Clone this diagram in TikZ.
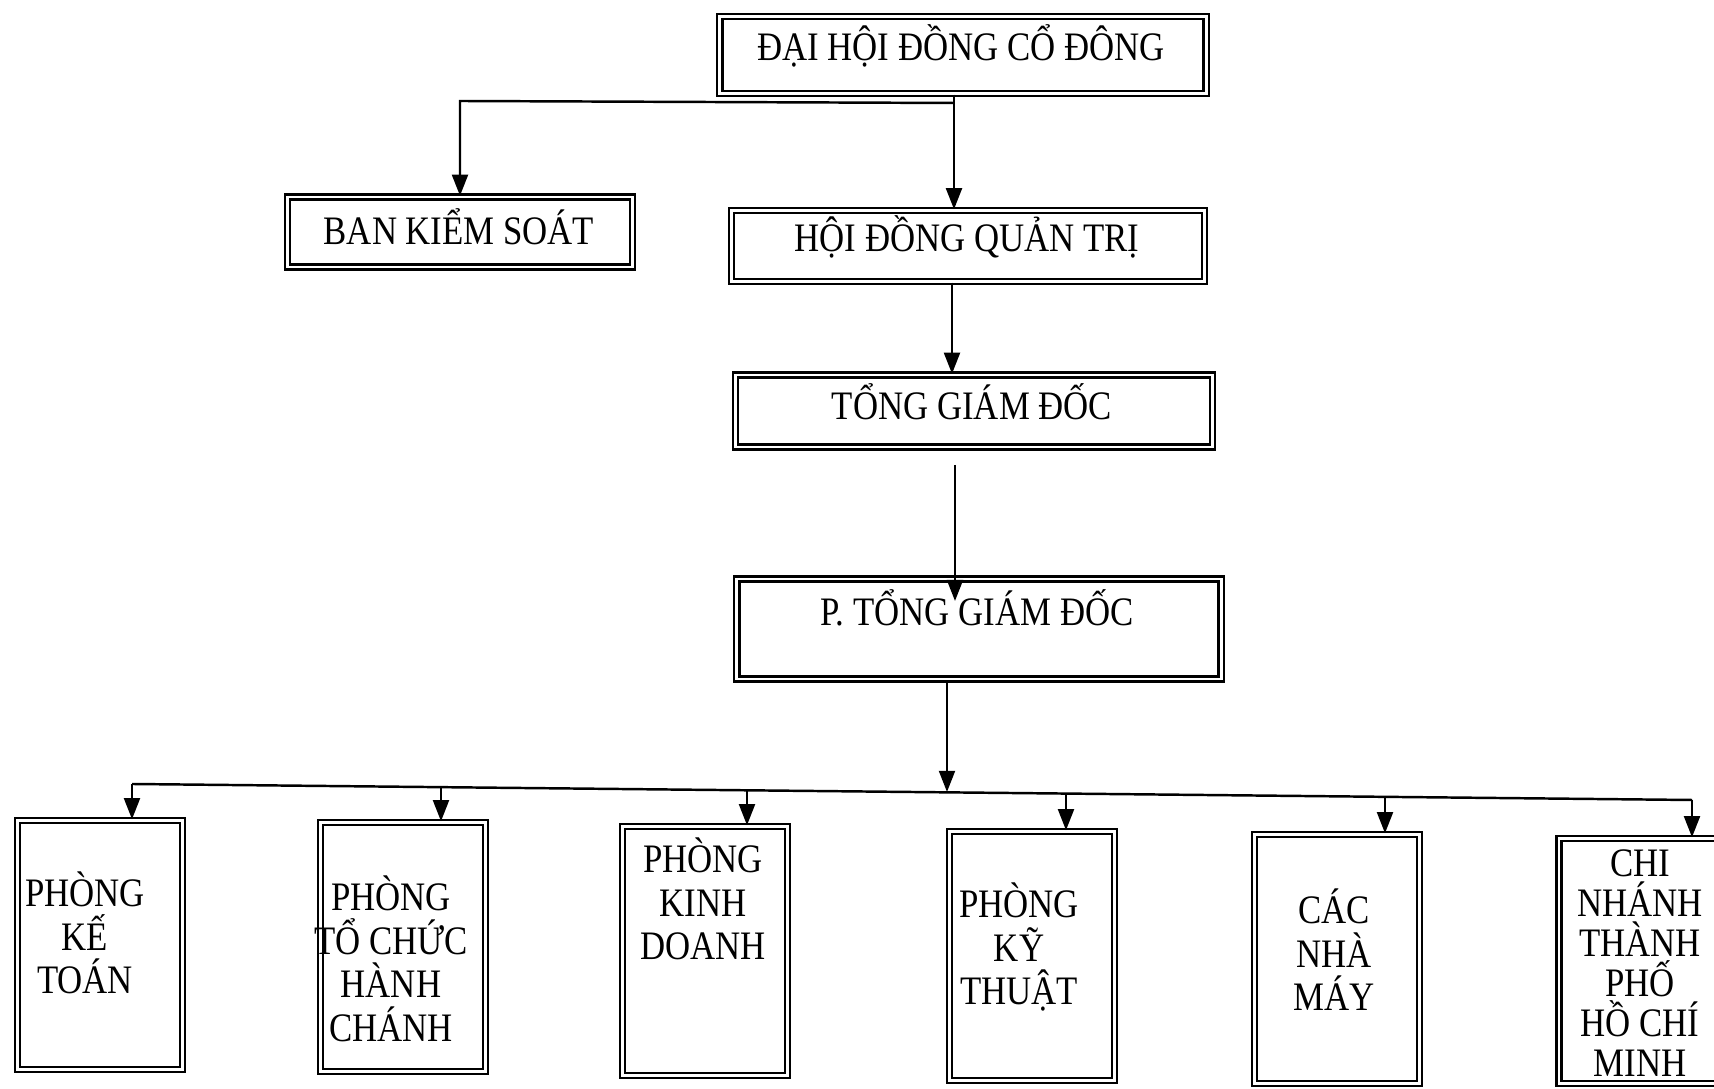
\documentclass[tikz,border=0pt]{standalone}
\usepackage{fontspec}
\setmainfont{Liberation Serif}[FakeStretch=0.86]
\usetikzlibrary{arrows.meta, positioning}

\begin{document}
\begin{tikzpicture}[x=0.01cm, y=-0.01cm,
  box/.style={draw, double, double distance=0.8pt, line width=0.65pt, inner sep=0pt},
  dept/.style={box, minimum width=1.65cm, minimum height=2.49cm},
  lbl/.style={align=center, inner sep=0pt, font=\fontsize{11.5}{12.4}\selectfont},
  arrow/.style={-{Triangle[length=6pt, width=4.5pt]}, line width=0.7pt}]

  \useasboundingbox (0,0) rectangle (1714,1089);

  % upper levels
  \node[box, minimum width=4.86cm, minimum height=0.77cm] (dhcd) at (963,55) {};
  \node[lbl] (dhcd-t) at (961,46) {ĐẠI HỘI ĐỒNG CỔ ĐÔNG};
  \node[box, minimum width=3.45cm, minimum height=0.70cm] (bks) at (460,232) {};
  \node[lbl] (bks-t) at (459,227) {BAN KIỂM SOÁT};
  \node[box, minimum width=4.73cm, minimum height=0.71cm] (hdqt) at (968,246) {};
  \node[lbl] (hdqt-t) at (967,237) {HỘI ĐỒNG QUẢN TRỊ};
  \node[box, minimum width=4.77cm, minimum height=0.72cm] (tgd) at (974,411) {};
  \node[lbl] (tgd-t) at (972,402) {TỔNG GIÁM ĐỐC};
  \node[box, minimum width=4.84cm, minimum height=1.00cm] (ptgd) at (979,629) {};

  % departments
  \node[dept] (pkt) at (100,945) {};
  \node[dept] (ptc) at (403,947) {};
  \node[dept] (pkd) at (705,951) {};
  \node[dept] (pkyt) at (1032,956) {};
  \node[dept] (nm) at (1337,959) {};
  \node[dept, minimum width=1.66cm, minimum height=2.45cm] (cn) at (1642,961) {};

  % connectors
  \coordinate (j1) at (954,103);
  \coordinate (j2) at (460,101);
  \draw[arrow] (j1 |- dhcd.south) -- (j1 |- hdqt.north);
  \draw[arrow] (j1) -- (j2) -- (j2 |- bks.north);
  \coordinate (c1) at (952,300);
  \draw[arrow] (c1 |- hdqt.south) -- (c1 |- tgd.north);
  \coordinate (c2) at (955,465);
  \draw[arrow] (c2) -- ++(0,136);

  % text over the arrow tip
  \node[lbl] (ptgd-t) at (977,608) {P. TỔNG GIÁM ĐỐC};

  \coordinate (b1) at (132,784);
  \coordinate (b2) at (441,787);
  \coordinate (b3) at (747,790);
  \coordinate (b4) at (1066,794);
  \coordinate (b5) at (1385,797);
  \coordinate (b6) at (1692,800);
  \coordinate (bm) at (947,792);
  \draw[arrow] (bm |- ptgd.south) -- (bm);
  \draw[line width=0.7pt] (b1) -- (b6);
  \foreach \b/\n in {b1/pkt, b2/ptc, b3/pkd, b4/pkyt, b5/nm, b6/cn}
    \draw[arrow] (\b) -- (\b |- \n.north);

  \node[lbl] (pkt-t) at (85,933) {PHÒNG\\KẾ\\TOÁN};
  \node[lbl] (ptc-t) at (391,959) {PHÒNG\\TỔ CHỨC\\HÀNH\\CHÁNH};
  \node[lbl] (pkd-t) at (703,899) {PHÒNG\\KINH\\DOANH};
  \node[lbl] (pkyt-t) at (1019,947) {PHÒNG\\KỸ\\THUẬT};
  \node[lbl] (nm-t) at (1334,950) {CÁC\\NHÀ\\MÁY};
  \node[lbl, font=\fontsize{11.5}{11.4}\selectfont] (cn-t) at (1640,963)
    {CHI\\NHÁNH\\THÀNH\\PHỐ\\HỒ CHÍ\\MINH};
\end{tikzpicture}
\end{document}
